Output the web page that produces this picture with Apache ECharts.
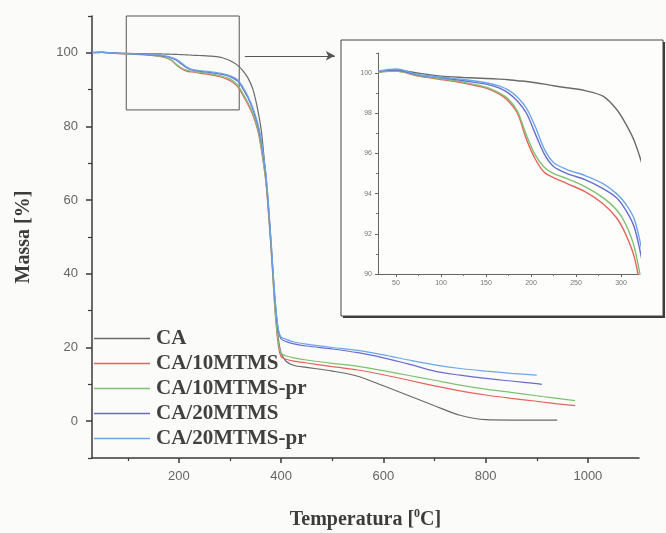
<!DOCTYPE html>
<html>
<head>
<meta charset="utf-8">
<script src="https://cdn.jsdelivr.net/npm/echarts@6/dist/echarts.min.js"></script>
<style>
html,body{margin:0;padding:0;background:#fbfbf9;}
#chart{width:666px;height:533px;}
</style>
</head>
<body>
<div id="chart"></div>
<script>
// Temperature (°C) sampling points shared by all curves
const temps = [30, 50, 75, 100, 125, 150, 165, 175, 185, 195, 205, 215, 225, 240, 260, 280, 295, 305, 315, 325, 335, 345, 355, 362, 370, 376, 382, 388, 394, 400, 410, 425, 450, 500, 550, 600, 650, 700, 750, 800, 850, 900, 910, 940, 975];

// Mass (%) per sample
const massCA = [100.05, 100.15, 100.0, 99.85, 99.78, 99.73, 99.7, 99.67, 99.62, 99.58, 99.52, 99.45, 99.37, 99.27, 99.13, 98.85, 98.2, 97.5, 96.6, 95.2, 93.2, 90, 84, 78, 66, 56, 44, 32, 23, 18.5, 16.2, 15.1, 14.6, 13.6, 12.2, 9.6, 6.9, 4.2, 1.6, 0.4, 0.3, 0.3, 0.3, 0.3, null];
const massCA10 = [100.05, 100.1, 99.85, 99.68, 99.5, 99.25, 98.95, 98.6, 98.0, 96.7, 95.7, 95.05, 94.8, 94.5, 94.1, 93.5, 92.8, 92.0, 90.8, 88.5, 86, 83, 78.5, 73, 65, 55, 43, 30, 21, 17.5, 16.8, 16.3, 15.8, 14.8, 13.9, 12.6, 11.1, 9.6, 8.2, 7.1, 6.2, 5.4, 5.2, 4.7, 4.2];
const massCA10pr = [100.05, 100.1, 99.88, 99.72, 99.55, 99.3, 99.0, 98.7, 98.1, 96.9, 95.9, 95.3, 95.0, 94.75, 94.35, 93.8, 93.2, 92.5, 91.3, 89, 86.5, 83.5, 79, 73.5, 65.5, 55.5, 43.5, 30.5, 21.8, 18.4, 17.7, 17.2, 16.6, 15.7, 14.9, 13.7, 12.4, 11.1, 9.8, 8.7, 7.8, 6.9, 6.7, 6.2, 5.6];
const massCA20 = [100.1, 100.15, 99.9, 99.78, 99.62, 99.45, 99.25, 99.0, 98.6, 98.0, 96.95, 95.95, 95.35, 95.0, 94.7, 94.25, 93.8, 93.2, 92.3, 90.3, 87.8, 84.5, 80, 75, 67, 57, 45, 33, 25, 22.3, 21.6, 21.0, 20.4, 19.6, 18.6, 17.2, 15.5, 13.6, 12.5, 11.6, 10.9, 10.2, 10.0, null, null];
const massCA20pr = [100.1, 100.2, 99.92, 99.8, 99.68, 99.52, 99.35, 99.15, 98.8, 98.25, 97.3, 96.2, 95.55, 95.2, 94.9, 94.5, 94.0, 93.5, 92.7, 90.8, 88.3, 85, 80.5, 75.5, 67.5, 57.5, 45.5, 33.5, 25.5, 22.8, 22.2, 21.5, 20.9, 20.0, 19.2, 18.0, 16.6, 15.3, 14.3, 13.6, 13.0, 12.5, null, null, null];

const seriesNames = ['CA', 'CA/10MTMS', 'CA/10MTMS-pr', 'CA/20MTMS', 'CA/20MTMS-pr'];
const seriesMass = [massCA, massCA10, massCA10pr, massCA20, massCA20pr];
const seriesColors = ['#6a6a6a', '#e8625c', '#7dc270', '#6a6ccc', '#6aa6ee'];

// Tick values
const mainXMajor = [200, 400, 600, 800, 1000];
const mainXMinor = [100, 300, 500, 700, 900];
const mainYMajor = [0, 20, 40, 60, 80, 100];
const mainYMinor = [-10, 10, 30, 50, 70, 90, 110];
const insetXMajor = [50, 100, 150, 200, 250, 300];
const insetXMinor = [75, 125, 175, 225, 275];
const insetYMajor = [90, 92, 94, 96, 98, 100];
const insetYMinor = [91, 93, 95, 97, 99, 101];

// Zoom box (data coords of main plot) and arrow
const zoomBoxX = [97, 318];
const zoomBoxY = [84.5, 110];
const arrowX = [329, 505];
const arrowY = 99.2;

const chart = echarts.init(document.getElementById('chart'), null, {renderer: 'canvas'});

function pts(arr) {
  const out = [];
  temps.forEach((t, i) => { if (arr[i] !== null) out.push([t, arr[i]]); });
  return out;
}

const axisCol = '#3a3a3a';
const plain = v => String(v);
const labelFont = {fontFamily: 'Liberation Sans', fontSize: 13, color: '#666', formatter: plain};
const insetLabel = {fontFamily: 'Liberation Sans', fontSize: 7, color: '#777', formatter: plain};

function valAxis(o) {
  return Object.assign({type: 'value', splitLine: {show: false}}, o);
}

const series = [];
seriesNames.forEach((n, i) => {
  const s = {
    name: n, type: 'line', xAxisIndex: 0, yAxisIndex: 0,
    data: pts(seriesMass[i]), showSymbol: false, symbol: 'none',
    smooth: 0.3, lineStyle: {color: seriesColors[i], width: 1.2},
    itemStyle: {color: seriesColors[i]}, z: 3
  };
  if (i === 0) {
    s.markArea = {
      silent: true,
      itemStyle: {color: 'rgba(0,0,0,0)', borderColor: '#555', borderWidth: 1},
      data: [[{coord: [zoomBoxX[0], zoomBoxY[0]]}, {coord: [zoomBoxX[1], zoomBoxY[1]]}]]
    };
    s.markLine = {
      silent: true, symbol: ['none', 'arrow'], symbolSize: [7, 9],
      lineStyle: {color: '#555', width: 1, type: 'solid'}, label: {show: false},
      data: [[{coord: [arrowX[0], arrowY]}, {coord: [arrowX[1], arrowY]}]]
    };
  }
  series.push(s);
});
seriesNames.forEach((n, i) => {
  series.push({
    name: n, type: 'line', xAxisIndex: 2, yAxisIndex: 2,
    data: pts(seriesMass[i]), showSymbol: false, symbol: 'none',
    smooth: 0.3, lineStyle: {color: seriesColors[i], width: 1.4},
    itemStyle: {color: seriesColors[i]}, z: 5
  });
});

const option = {
  animation: false,
  backgroundColor: '#fbfbf9',
  grid: [
    {left: 92, right: 27, top: 16, bottom: 75, outerBoundsMode: 'none', containLabel: false},
    {left: 378, right: 27, top: 53, bottom: 259, outerBoundsMode: 'none', containLabel: false}
  ],
  graphic: {
    elements: [
      {type: 'rect', z: -2, shape: {x: 343, y: 42, width: 322, height: 276}, style: {fill: '#3a3a3a'}},
      {type: 'rect', z: -1, shape: {x: 341, y: 40, width: 322, height: 276}, style: {fill: '#fdfdfc', stroke: '#444', lineWidth: 1}}
    ]
  },
  legend: {
    data: seriesNames, orient: 'vertical', left: 94, top: 328, itemGap: 4,
    icon: 'rect', itemWidth: 56, itemHeight: 1.5, padding: 0,
    textStyle: {fontFamily: 'Liberation Serif', fontWeight: 'bold', fontSize: 21, color: '#404040', padding: [0, 0, 0, 1]}
  },
  xAxis: [
    valAxis({gridIndex: 0, min: 30, max: 1100, position: 'bottom',
      axisLine: {onZero: false, lineStyle: {color: axisCol, width: 1.5}},
      axisTick: {customValues: mainXMajor, length: 5, lineStyle: {color: axisCol, width: 1.5}},
      axisLabel: Object.assign({customValues: mainXMajor, margin: 12}, labelFont),
      name: '{t|Temperatura [}{sup|0}{t|C]}', nameLocation: 'middle', nameGap: 50,
      nameTextStyle: {fontFamily: 'Liberation Serif', fontWeight: 'bold', fontSize: 20, color: '#3c3c3c',
        rich: {
          t: {fontFamily: 'Liberation Serif', fontWeight: 'bold', fontSize: 20, color: '#3c3c3c', lineHeight: 24},
          sup: {fontFamily: 'Liberation Serif', fontWeight: 'bold', fontSize: 12, color: '#3c3c3c', lineHeight: 12, verticalAlign: 'top'}
        }}
    }),
    valAxis({gridIndex: 0, min: 30, max: 1100, position: 'bottom',
      axisLine: {show: false, onZero: false},
      axisTick: {customValues: mainXMinor, length: 3, lineStyle: {color: axisCol, width: 1.2}},
      axisLabel: {show: false}
    }),
    valAxis({gridIndex: 1, min: 30, max: 320, position: 'bottom',
      axisLine: {onZero: false, lineStyle: {color: '#666', width: 1}},
      axisTick: {customValues: insetXMajor, length: 3, lineStyle: {color: '#666'}},
      axisLabel: Object.assign({customValues: insetXMajor, margin: 6}, insetLabel)
    }),
    valAxis({gridIndex: 1, min: 30, max: 320, position: 'bottom',
      axisLine: {show: false, onZero: false},
      axisTick: {customValues: insetXMinor, length: 2, lineStyle: {color: '#777'}},
      axisLabel: {show: false}
    })
  ],
  yAxis: [
    valAxis({gridIndex: 0, min: -10, max: 110, position: 'left',
      axisLine: {show: true, onZero: false, lineStyle: {color: axisCol, width: 1.5}},
      axisTick: {show: true, customValues: mainYMajor, length: 6, lineStyle: {color: axisCol, width: 1.5}},
      axisLabel: Object.assign({customValues: mainYMajor, margin: 14}, labelFont),
      name: 'Massa [%]', nameLocation: 'middle', nameGap: 58, nameRotate: 90,
      nameTextStyle: {fontFamily: 'Liberation Serif', fontWeight: 'bold', fontSize: 20, color: '#3c3c3c'}
    }),
    valAxis({gridIndex: 0, min: -10, max: 110, position: 'left',
      axisLine: {show: false, onZero: false},
      axisTick: {show: true, customValues: mainYMinor, length: 4, lineStyle: {color: axisCol, width: 1.2}},
      axisLabel: {show: false}
    }),
    valAxis({gridIndex: 1, min: 90, max: 101, position: 'left',
      axisLine: {show: true, onZero: false, lineStyle: {color: '#666', width: 1}},
      axisTick: {show: true, customValues: insetYMajor, length: 3, lineStyle: {color: '#666'}},
      axisLabel: Object.assign({customValues: insetYMajor, margin: 6}, insetLabel)
    }),
    valAxis({gridIndex: 1, min: 90, max: 101, position: 'left',
      axisLine: {show: false, onZero: false},
      axisTick: {show: true, customValues: insetYMinor, length: 2, lineStyle: {color: '#777'}},
      axisLabel: {show: false}
    })
  ],
  series: series
};
chart.setOption(option);
</script>
</body>
</html>
